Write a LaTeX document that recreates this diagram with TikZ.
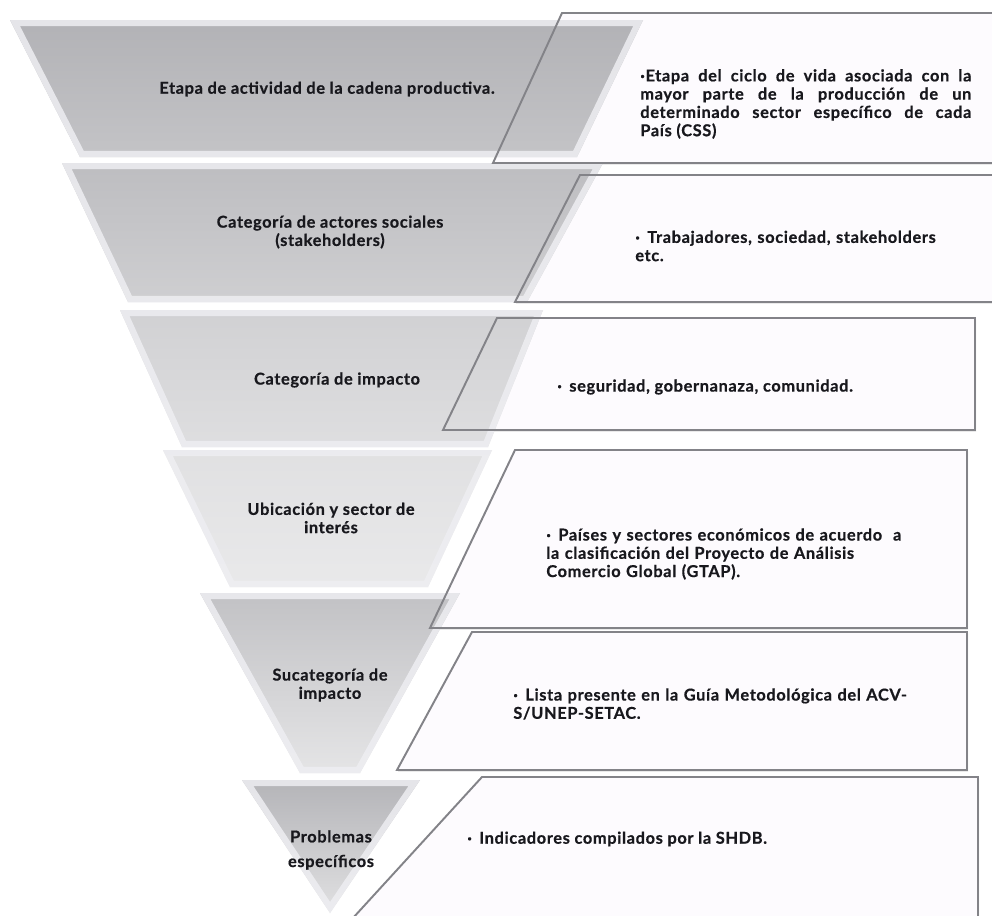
\documentclass[tikz,border=0pt]{standalone}
\usepackage{fontspec}
\setmainfont{Lato}[LetterSpace=4, BoldFeatures={FakeBold=0.6}]
\usetikzlibrary{shadows}

\definecolor{boxline}{HTML}{838388}
\definecolor{boxfill}{HTML}{FDFBFE}
\definecolor{ink}{HTML}{18181D}
\definecolor{bevel}{HTML}{EEEEF2}
\definecolor{slate}{HTML}{23232E}

\newcommand{\itemdot}{\makebox[0.24cm][l]{·}}

% one level of the funnel: shaded trapezoid with a light inner rim
\newcommand{\layer}[3]{%
  \shade[top color=white!#2!slate, bottom color=white!#3!slate] #1 -- cycle;
  \begin{scope}
    \clip #1 -- cycle;
    \draw[bevel, line width=7pt, opacity=.85] #1 -- cycle;
  \end{scope}}

\begin{document}
\begin{tikzpicture}[x=0.02cm,y=-0.02cm]
\tikzstyle{stage} = [font=\bfseries\fontsize{9.3}{10.4}\selectfont, text=ink, align=center, inner sep=0]
\tikzstyle{note} = [font=\bfseries\fontsize{9.3}{10.4}\selectfont, text=ink, align=left, anchor=west, inner sep=0]

\clip (0,0) rectangle (992,916);
\fill[white] (0,0) rectangle (992,916);

% panels on the right, filled first so the funnel shows through
\foreach \ya/\yb/\xa/\xb/\xr in {13/163/562/493/1000, 175/302/580/515/1000,
    318/430/497/443/975, 450/628/515/430/967, 632/770/472/397/967, 777/930/482/342/978}
  \fill[boxfill, drop shadow={opacity=.25, shadow xshift=.6pt, shadow yshift=-.9pt}]
    (\xa,\ya) -- (\xr,\ya) -- (\xr,\yb) -- (\xb,\yb) -- cycle;

% funnel levels
\foreach \ya/\yb/\tl/\tr/\bl/\br/\ca/\cb in {20/157/10/643/80/577/65/73,
    163/302/62/603/128/527/70/78, 310/447/120/543/182/488/79/85,
    450/587/163/492/230/428/86/90, 593/773/200/460/300/360/72/88,
    780/913/242/420/330/330/66/86}
  \layer{(\tl,\ya) -- (\tr,\ya) -- (\br,\yb) -- (\bl,\yb)}{\ca}{\cb};

\foreach \ya/\yb/\xa/\xb/\xr in {13/163/562/493/1000, 175/302/580/515/1000,
    318/430/497/443/975, 450/628/515/430/967, 632/770/472/397/967, 777/930/482/342/978}
  \draw[boxline, line width=1.1pt] (\xa,\ya) -- (\xr,\ya) -- (\xr,\yb) -- (\xb,\yb) -- cycle;

\node[stage] (s1) at (327,89) {Etapa de actividad de la cadena productiva.};
\node[stage] (s2) at (330,232) {Categoría de actores sociales\\(stakeholders)};
\node[stage] (s3) at (337,380) {Categoría de impacto};
\node[stage] (s4) at (331,518) {Ubicación y sector de\\interés};
\node[stage] (s5) at (330,685) {Sucategoría de\\impacto};
\node[stage, font=\bfseries\fontsize{9.3}{14}\selectfont] (s6) at (331,850) {Problemas\\específicos};

\node[note, text width=6.62cm, align=justify] (n1) at (640,104) {·Etapa del ciclo de vida asociada con la\linebreak mayor parte de la producción de un\linebreak determinado sector específico de cada\linebreak País (CSS)};
\node[note, text width=6.8cm] (n2) at (635,246) {\hangindent=0.24cm\itemdot Trabajadores, sociedad, stakeholders\\etc.};
\node[note] (n3) at (557,387) {\itemdot seguridad, gobernanaza, comunidad.};
\node[note, text width=8.4cm] (n4) at (546,554) {\hangindent=0.26cm\itemdot Países y sectores económicos de acuerdo~~a\\la clasificación del Proyecto de Análisis\\Comercio Global (GTAP).};
\node[note, text width=8.6cm] (n5) at (513,704) {\hangindent=0.24cm\itemdot Lista presente en la Guía Metodológica del ACV-\\S/UNEP-SETAC.};
\node[note] (n6) at (467,839) {\itemdot Indicadores compilados por la SHDB.};
\end{tikzpicture}
\end{document}
